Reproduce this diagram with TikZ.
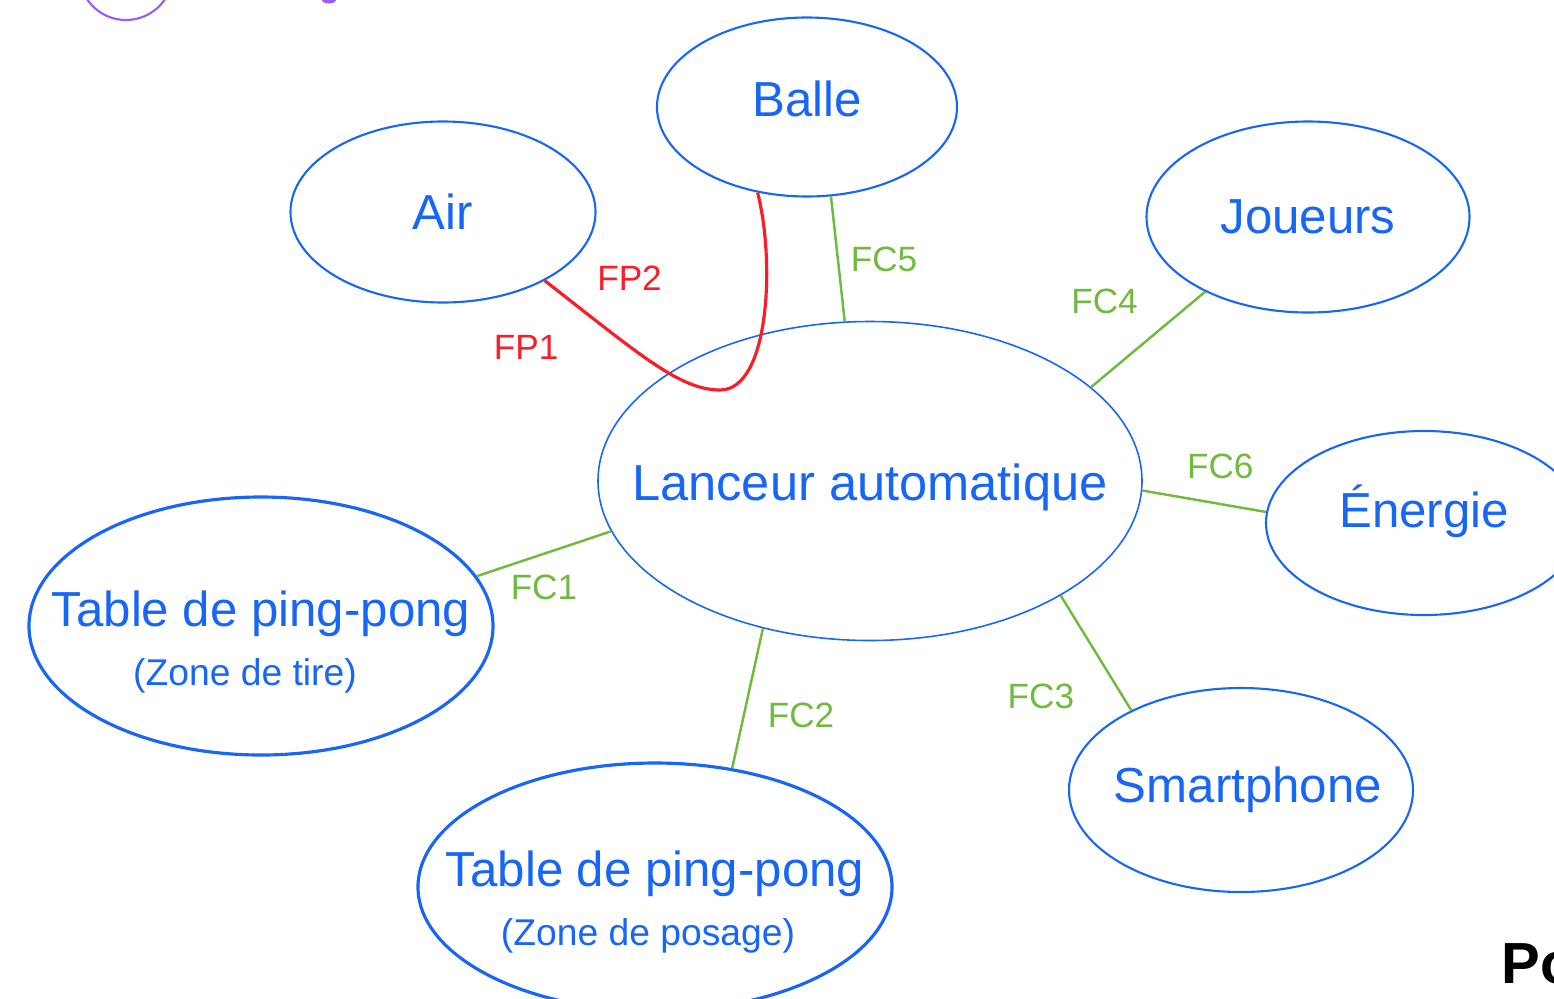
\documentclass[tikz,border=0pt]{standalone}
\usepackage{fontspec}
\setmainfont{Liberation Sans}
\usepackage{tikz}
\usetikzlibrary{shapes.geometric, positioning}
\definecolor{bleu}{RGB}{24,102,246}
\definecolor{vert}{RGB}{112,186,62}
\definecolor{rouge}{RGB}{250,28,38}
\definecolor{viola}{RGB}{150,92,250}
% testo a larghezza nulla, cosi' conta solo la taglia dell'ellisse
\newcommand{\riga}[1]{\makebox[0pt]{#1}}

\begin{document}
\begin{tikzpicture}[
    node distance=3cm,
    on grid,
    % Stile per gli elementi esterni
    elemento/.style={ellipse, draw=bleu, line width=0.6pt, text=bleu, inner sep=0pt,
        align=center, font=\fontsize{14}{17}\selectfont},
    tavolo/.style={elemento, line width=0.9pt},
    % Stile per le funzioni
    fc/.style={vert, line width=0.7pt, font=\fontsize{10}{12}\selectfont},
    fp/.style={rouge, line width=0.9pt, font=\fontsize{10}{12}\selectfont}
]
    \useasboundingbox (-8.70,-5.17) rectangle (6.84,4.81);

    % Definizione dei nodi
    \node[elemento, line width=0.45pt, minimum width=5.44cm, minimum height=3.19cm,
        text height=14pt, font=\fontsize{14.4}{17}\selectfont]
        (lanceur) {\riga{Lanceur automatique}};
    \node[elemento, minimum width=3.00cm, minimum height=1.79cm, text depth=5pt]
        (balle) [above left=3.74cm and 0.63cm of lanceur] {\riga{Balle}};
    \node[elemento, minimum width=3.05cm, minimum height=1.81cm]
        (air) [above left=2.69cm and 4.27cm of lanceur] {\riga{Air}};
    \node[elemento, minimum width=3.23cm, minimum height=1.91cm]
        (joueurs) [above right=2.64cm and 4.38cm of lanceur] {\riga{Joueurs}};
    \node[elemento, minimum width=3.16cm, minimum height=1.84cm, text depth=9.5pt]
        (energie) [below right=0.42cm and 5.54cm of lanceur] {\riga{Énergie}};
    \node[elemento, minimum width=3.44cm, minimum height=2.04cm]
        (smartphone) [below right=3.09cm and 3.71cm of lanceur]
        {\riga{\hspace*{0.14cm}Smartphone}};
    \node[tavolo, minimum width=4.64cm, minimum height=2.58cm]
        (tire) [below left=1.45cm and 6.09cm of lanceur]
        {\rule{0pt}{19.3pt}\riga{Table de ping-pong}\\
         \riga{\fontsize{10.6}{17}\selectfont (Zone de tire)\hspace*{0.32cm}}};
    \node[tavolo, minimum width=4.74cm, minimum height=2.48cm]
        (posage) [below left=4.06cm and 2.15cm of lanceur]
        {\rule{0pt}{18.7pt}\riga{Table de ping-pong}\\
         \riga{\fontsize{10.6}{17}\selectfont (Zone de posage)\hspace*{0.14cm}}};

    % Fonctions contraintes
    \path[fc]
        (balle.-75) edge node[right] {FC5} (lanceur.99)
        (lanceur.23.7) edge node[pos=0.6, above left=1pt and 2.5pt] {FC4} (joueurs.216)
        (lanceur.-2.9) edge node[pos=0.63, above=0.12cm] {FC6} (energie.176.4)
        (lanceur.-31.8) edge node[below left=0.18cm and 0.09cm] {FC3} (smartphone.144.3)
        (lanceur.-126.6) edge node[pos=0.62, right=0.11cm] {FC2} (posage.57.9)
        (lanceur.191.5) edge node[below=0.08cm] {FC1} (tire.13.3)
        ;

    % Fonctions principales
    \draw[fp] (air.-34)
        .. controls (-2.30,1.26) and (-1.90,0.91) ..
        node[pos=0.15, above right=0.08cm and 0cm] {FP2}
        node[pos=0.1, below left=0.2cm and 0cm] {FP1}
        (-1.50,0.91)
        .. controls (-1.00,0.91) and (-0.95,2.21) .. (balle.-120);

    % Resti della pagina
    \draw[viola, line width=0.6pt] (-7.44,5.08) circle (0.47cm);
    \fill[viola] (-5.41,4.81) ellipse (0.07cm and 0.035cm);
    \node[anchor=base west, inner sep=0pt, font=\bfseries\fontsize{16.5}{20}\selectfont]
        (po) at (6.31,-5.02) {Po};

\end{tikzpicture}
\end{document}
